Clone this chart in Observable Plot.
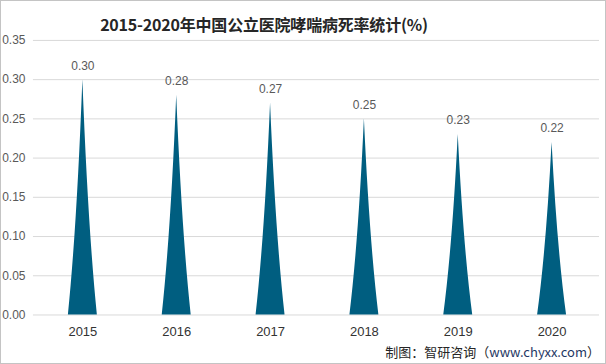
<!DOCTYPE html>
<html>
<head>
<meta charset="utf-8">
<script src="https://cdn.jsdelivr.net/npm/d3@7"></script>
<script src="https://cdn.jsdelivr.net/npm/@observablehq/plot@0.6"></script>
<style>
  html, body { margin: 0; padding: 0; background: #fff; }
  #wrap { position: relative; width: 606px; height: 364px; box-sizing: border-box; border: 1px solid #c4c4c4; overflow: hidden; font-family: "Noto Sans CJK SC", "Liberation Sans", sans-serif; }
  #title { position: absolute; left: 0; top: 12px; width: 526px; text-align: center; font-weight: bold; font-size: 16px; color: #262626; line-height: 22px; letter-spacing: -0.2px; }
  #caption { position: absolute; right: 5px; top: 342px; font-size: 13px; color: #262626; line-height: 18px; }
  #caption .url { color: #1f3864; }
  #chart { position: absolute; left: -1px; top: -1px; }
</style>
</head>
<body>
<div id="wrap">
  <div id="chart"></div>
  <div id="title">2015-2020年中国公立医院哮喘病死率统计(%)</div>
  <div id="caption">制图：智研咨询（<span class="url">www.chyxx.com</span>）</div>
</div>
<script>
const years = ["2015", "2016", "2017", "2018", "2019", "2020"];
const rates = [0.30, 0.28, 0.27, 0.25, 0.23, 0.22];
const yTicks = [0, 0.05, 0.10, 0.15, 0.20, 0.25, 0.30, 0.35];

const data = years.map((y, i) => ({year: y, rate: rates[i]}));

// Replace each bar rect with a concave spike path (geometry from the rect the scales produced)
function spikeRender(index, scales, values, dimensions, context, next) {
  const g = next(index, scales, values, dimensions, context);
  const ns = "http://www.w3.org/2000/svg";
  g.querySelectorAll("rect").forEach(r => {
    const x = +r.getAttribute("x"), y = +r.getAttribute("y");
    const w = +r.getAttribute("width"), h = +r.getAttribute("height");
    const cx = x + w / 2, base = y + h, hw = w / 2, k = 0.38;
    const p = document.createElementNS(ns, "path");
    p.setAttribute("d",
      `M${cx - hw},${base}` +
      `Q${cx - hw * k},${base - h * k} ${cx},${y}` +
      `Q${cx + hw * k},${base - h * k} ${cx + hw},${base}Z`);
    p.setAttribute("fill", r.getAttribute("fill") || "#005e80");
    r.replaceWith(p);
  });
  return g;
}

const chart = Plot.plot({
  width: 606,
  height: 364,
  marginTop: 40,
  marginBottom: 49,
  marginLeft: 33,
  marginRight: 6,
  style: {fontFamily: "'Liberation Sans', 'Noto Sans', sans-serif", fontSize: "12px", background: "transparent"},
  x: {domain: years, paddingInner: 0.69, paddingOuter: 0.345, insetLeft: 2.5, label: null},
  y: {domain: [0, 0.35], label: null},
  marks: [
    Plot.ruleY(yTicks, {stroke: "#d9d9d9", strokeWidth: 1}),
    Plot.barY(data, {x: "year", y: "rate", fill: "#005e80", render: spikeRender}),
    Plot.text(data, {x: "year", y: "rate", text: d => d.rate.toFixed(2), dy: -14, fill: "#595959", fontSize: 12}),
    Plot.axisY({ticks: yTicks, tickFormat: d3.format(".2f"), tickSize: 0, tickPadding: 8, fill: "#595959", fontSize: 12, label: null}),
    Plot.axisX({tickSize: 0, tickPadding: 12, fill: "#333333", fontSize: 13, label: null})
  ]
});
document.getElementById("chart").appendChild(chart);
</script>
</body>
</html>
